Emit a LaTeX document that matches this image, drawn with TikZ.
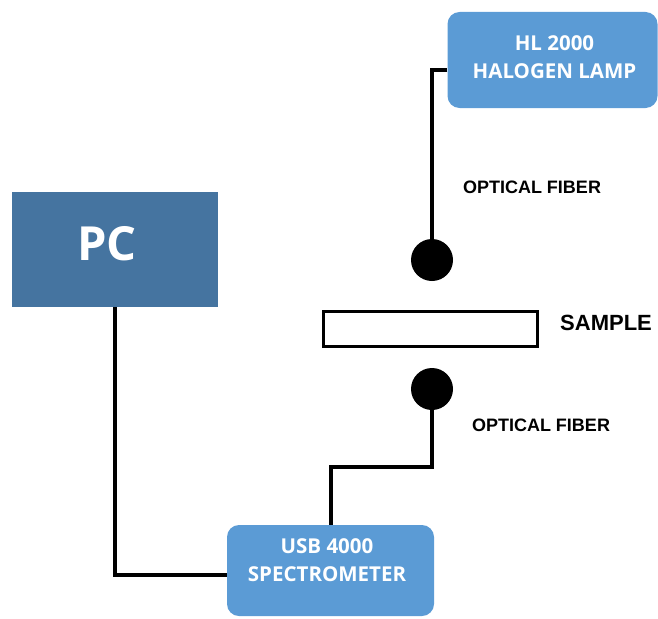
\documentclass[tikz,border=0pt]{standalone}
\usepackage{fontspec}
\setmainfont{Liberation Sans}
\newfontfamily\boxfont{Open Sans}
\definecolor{lampblue}{RGB}{91,155,213}
\definecolor{pcblue}{RGB}{69,116,160}
\tikzset{
  devbox/.style={fill=lampblue, rounded corners=12pt, inner sep=0pt},
  boxtext/.style={text=white, align=center, inner sep=0pt,
    font=\boxfont\bfseries\fontsize{20.5}{28.5}\selectfont},
  fiber/.style={line width=4pt},
  probe/.style={circle, fill=black, minimum size=42pt, inner sep=0pt},
  tag/.style={inner sep=0pt, font=\bfseries\fontsize{18}{20}\selectfont}
}
\begin{document}
\begin{tikzpicture}[x=1pt,y=-1pt]
\useasboundingbox (0,0) rectangle (658,618);
\clip (0,0) rectangle (658,618);
% boxes
\node[devbox, minimum width=210, minimum height=96] (lamp) at (552.5,60) {};
\node[boxtext] (lamptext) at (554.5,57) {HL 2000\\HALOGEN LAMP};
\node[fill=pcblue, minimum width=206, minimum height=115, inner sep=0pt] (pc) at (115,249.5) {};
\node[boxtext, font=\boxfont\bfseries\fontsize{47}{50}\selectfont] (pctext) at (107,244) {PC};
\node[devbox, minimum width=207, minimum height=91] (spec) at (330.5,570.5) {};
\node[boxtext] (spectext) at (327,560) {USB 4000\\SPECTROMETER};
% sample and probes
\node[draw, line width=3pt, fill=white, minimum width=214, minimum height=35, inner sep=0pt] (sample) at (430.5,329) {};
\node[tag, font=\bfseries\fontsize{22}{24}\selectfont, anchor=west] (samplelabel) at (560,323) {SAMPLE};
\node[probe] (probetop) at (432,260) {};
\node[probe] (probebot) at (432,389) {};
\node[tag] (fibertop) at (532,187) {OPTICAL FIBER};
\node[tag] (fiberbot) at (541,425) {OPTICAL FIBER};
% fibers and cable
\coordinate (bend) at (331,467);
\draw[fiber] ([yshift=-10pt]lamp.west) -| (probetop.north);
\draw[fiber] (probebot.south) |- (bend) -- (bend |- spec.north);
\draw[fiber] (pc.south) |- ([yshift=-4.5pt]spec.west);
\end{tikzpicture}
\end{document}
